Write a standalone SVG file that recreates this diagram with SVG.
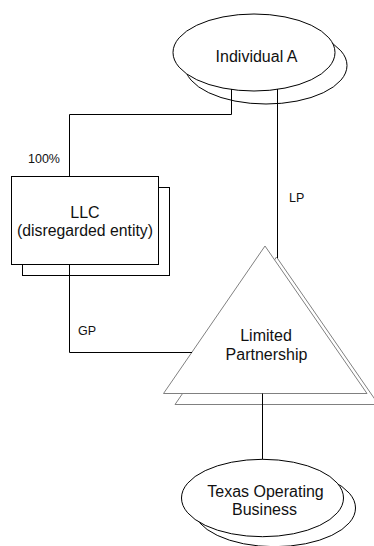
<svg xmlns="http://www.w3.org/2000/svg" width="374" height="546" viewBox="0 0 374 546">
  <style>
    .shape { fill: #ffffff; stroke: #000000; stroke-width: 1; }
    .tri { fill: #ffffff; stroke: #808080; stroke-width: 1; }
    .wire { fill: none; stroke: #000000; stroke-width: 1; }
    .label { font-family: "Liberation Sans", Arial, sans-serif; font-size: 16px; fill: #111111; text-anchor: middle; }
    .small { font-family: "Liberation Sans", Arial, sans-serif; font-size: 12.5px; fill: #111111; }
  </style>

  <g id="individual-a">
    <ellipse class="shape" cx="266" cy="65.5" rx="81" ry="38.5"/>
    <ellipse class="shape" cx="254" cy="52.5" rx="81" ry="38.5"/>
    <text class="label" x="256.5" y="61.5">Individual A</text>
  </g>

  <g id="llc">
    <rect class="shape" x="22.5" y="187.5" width="147" height="88"/>
    <rect class="shape" x="11.5" y="176.5" width="147" height="88"/>
    <text class="label" x="85" y="217.5">LLC</text>
    <text class="label" x="85" y="235.5" textLength="136" lengthAdjust="spacingAndGlyphs">(disregarded entity)</text>
  </g>

  <g id="limited-partnership">
    <polygon class="tri" points="276.5,257 175,404.5 378.5,404.5"/>
    <polygon class="tri" points="265,246 163.5,393.5 367,393.5"/>
    <text class="label" x="266" y="340.5">Limited</text>
    <text class="label" x="266.5" y="359.5">Partnership</text>
  </g>

  <g id="texas-operating-business">
    <ellipse class="shape" cx="274.5" cy="508" rx="81" ry="38.7"/>
    <ellipse class="shape" cx="262.5" cy="498" rx="81" ry="38.7"/>
    <text class="label" x="265.5" y="496.5">Texas Operating</text>
    <text class="label" x="264.5" y="515">Business</text>
  </g>

  <g id="connectors">
    <!-- Individual A to LLC (100%) -->
    <polyline class="wire" points="231.5,89 231.5,114.5 69.5,114.5 69.5,176.5"/>
    <!-- Individual A to Limited Partnership (LP) -->
    <line class="wire" x1="277.5" y1="89" x2="277.5" y2="258"/>
    <!-- LLC to Limited Partnership (GP) -->
    <polyline class="wire" points="69.5,264.5 69.5,352.5 192,352.5"/>
    <!-- Limited Partnership to Texas Operating Business -->
    <line class="wire" x1="262.5" y1="393.5" x2="262.5" y2="459.3"/>
  </g>

  <g id="connector-labels">
    <text class="small" x="28" y="162.5">100%</text>
    <text class="small" x="289" y="202">LP</text>
    <text class="small" x="78" y="335">GP</text>
  </g>
</svg>
